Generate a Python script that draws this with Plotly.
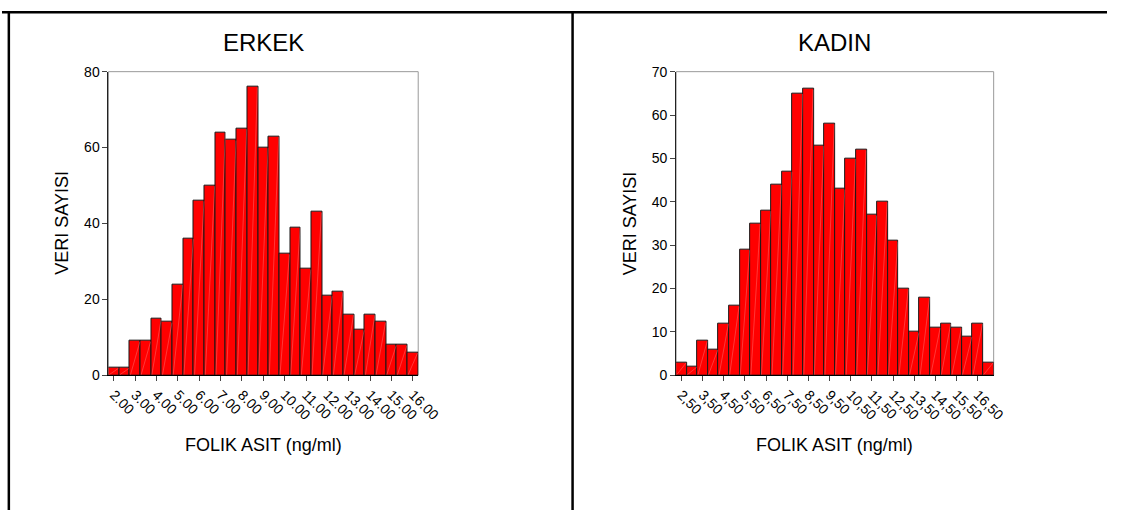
import plotly.graph_objects as go

# ---- data ----
erkek_centers = [2.0 + 0.5 * i for i in range(29)]
erkek_counts = [2, 2, 9, 9, 15, 14, 24, 36, 46, 50, 64, 62, 65, 76, 60,
                63, 32, 39, 28, 43, 21, 22, 16, 12, 16, 14, 8, 8, 6]
erkek_tickvals = [2, 3, 4, 5, 6, 7, 8, 9, 10, 11, 12, 13, 14, 15, 16]
erkek_ticktext = ["2.00", "3.00", "4.00", "5.00", "6.00", "7.00", "8.00", "9.00",
                  "10.00", "11.00", "12.00", "13.00", "14.00", "15.00", "16.00"]

kadin_centers = [2.5 + 0.5 * i for i in range(30)]
kadin_counts = [3, 2, 8, 6, 12, 16, 29, 35, 38, 44, 47, 65, 66, 53, 58,
                43, 50, 52, 37, 40, 31, 20, 10, 18, 11, 12, 11, 9, 12, 3]
kadin_tickvals = [2.5, 3.5, 4.5, 5.5, 6.5, 7.5, 8.5, 9.5, 10.5, 11.5, 12.5,
                  13.5, 14.5, 15.5, 16.5]
kadin_ticktext = ["2,50", "3,50", "4,50", "5,50", "6,50", "7,50", "8,50", "9,50",
                  "10,50", "11,50", "12,50", "13,50", "14,50", "15,50", "16,50"]

titles = ["ERKEK", "KADIN"]
x_title = "FOLIK ASIT (ng/ml)"
y_title = "VERI SAYISI"

W, H = 1131, 518
FONT = "Liberation Sans, Arial, sans-serif"
BAR_W = 0.5

def px_x(p):
    return p / W

def px_y(p):
    return (H - p) / H

fig = go.Figure()

bar_style = dict(marker=dict(color="#FF0000", line=dict(color="#1a1a1a", width=1)),
                 width=BAR_W, showlegend=False, hoverinfo="x+y")

fig.add_trace(go.Bar(x=erkek_centers, y=erkek_counts, xaxis="x", yaxis="y", **bar_style))
fig.add_trace(go.Bar(x=kadin_centers, y=kadin_counts, xaxis="x2", yaxis="y2", **bar_style))


# faint diagonal hatch inside each bar (corner to corner), as in the original
def hatch(centers, counts):
    xs, ys = [], []
    for c, v in zip(centers, counts):
        xs += [c - BAR_W / 2 + 0.03, c + BAR_W / 2 - 0.03, None]
        ys += [0.15, v - 0.15, None]
    return xs, ys

for (cs, vs, xa, ya) in ((erkek_centers, erkek_counts, "x", "y"),
                         (kadin_centers, kadin_counts, "x2", "y2")):
    hx, hy = hatch(cs, vs)
    fig.add_trace(go.Scatter(x=hx, y=hy, xaxis=xa, yaxis=ya, mode="lines",
                             line=dict(color="rgba(255,170,170,0.55)", width=0.6),
                             hoverinfo="skip", showlegend=False))

top_px, bot_px = 65.7, 379
L1, R1 = 109, 426
L2, R2 = 690, 1015

tickfont = dict(family=FONT, size=14, color="black")
common_x = dict(showgrid=False, zeroline=False, showline=True, linecolor="black",
                linewidth=1, ticks="outside", ticklen=5, tickcolor="#444",
                tickangle=45, tickfont=tickfont, tickmode="array")
common_y = dict(showgrid=False, zeroline=False, showline=True, linecolor="#222",
                linewidth=1, ticks="outside", ticklen=5, tickcolor="#444",
                tickfont=tickfont)

fig.update_layout(
    width=W, height=H,
    margin=dict(l=0, r=0, t=0, b=0),
    paper_bgcolor="white", plot_bgcolor="white",
    bargap=0,
    xaxis=dict(domain=[px_x(L1), px_x(R1)], range=[1.75, 16.25], anchor="y",
               tickvals=erkek_tickvals, ticktext=erkek_ticktext, **common_x),
    yaxis=dict(domain=[px_y(bot_px), px_y(top_px)], range=[0, 80], anchor="x",
               tickvals=[0, 20, 40, 60, 80], **common_y),
    xaxis2=dict(domain=[px_x(L2), px_x(R2)], range=[2.25, 17.25], anchor="y2",
                tickvals=kadin_tickvals, ticktext=kadin_ticktext, **common_x),
    yaxis2=dict(domain=[px_y(bot_px), px_y(top_px)], range=[0, 70], anchor="x2",
                tickvals=[0, 10, 20, 30, 40, 50, 60, 70], **common_y),
)

# gray frame (top/right) around plot areas
for xa, ya in (("x", "y"), ("x2", "y2")):
    fig.add_shape(type="rect", xref=f"{xa} domain", yref=f"{ya} domain",
                  x0=0, x1=1, y0=0, y1=1, line=dict(color="#9a9a9a", width=1),
                  layer="below")

# outer table-like frame
line = dict(color="black", width=2.5)
fig.add_shape(type="line", xref="paper", yref="paper", x0=0, x1=1,
              y0=px_y(4.5), y1=px_y(4.5), line=line)
fig.add_shape(type="line", xref="paper", yref="paper", x0=px_x(7), x1=px_x(7),
              y0=0, y1=px_y(4.5), line=line)
fig.add_shape(type="line", xref="paper", yref="paper", x0=px_x(584), x1=px_x(584),
              y0=0, y1=px_y(4.5), line=line)

# titles and axis titles
for i, (L, R) in enumerate(((L1, R1), (L2, R2))):
    cx = (L + R) / 2
    fig.add_annotation(text=titles[i], xref="paper", yref="paper",
                       x=px_x(cx), y=px_y(36), xanchor="center", yanchor="middle",
                       showarrow=False, font=dict(family=FONT, size=24, color="black"))
    fig.add_annotation(text=x_title, xref="paper", yref="paper",
                       x=px_x(cx), y=px_y(451), xanchor="center", yanchor="middle",
                       showarrow=False, font=dict(family=FONT, size=18, color="black"))
    fig.add_annotation(text=y_title, xref="paper", yref="paper",
                       x=px_x(L - 47), y=px_y(222), xanchor="center", yanchor="middle",
                       textangle=-90, showarrow=False,
                       font=dict(family=FONT, size=18, color="black"))

fig.write_html("out.html",
               config={"displayModeBar": False},
               post_script="document.body.style.margin='0';"
                           "document.documentElement.style.overflow='hidden';"
                           "document.body.style.overflow='hidden';")
